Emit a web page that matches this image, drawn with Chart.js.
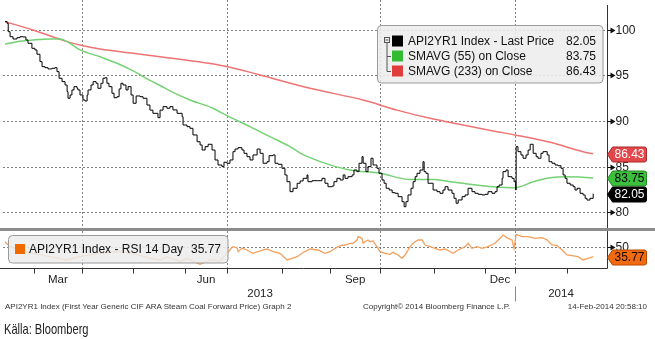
<!DOCTYPE html>
<html>
<head>
<meta charset="utf-8">
<script src="https://cdn.jsdelivr.net/npm/chart.js@4.4.0/dist/chart.umd.min.js"></script>
<style>
  body { margin: 0; background: #fff; }
  #wrap { position: relative; width: 655px; height: 339px; overflow: hidden; }
  canvas { position: absolute; left: 0; }
  #main { top: 0; }
  #rsi { top: 231px; }
  #band { position: absolute; left: 0; top: 228px; width: 655px; height: 3px; background: #8c8c8c; }
  .foot { position: absolute; top: 302px; font: 8px "Liberation Sans", sans-serif; color: #333; white-space: nowrap; }
  #source { position: absolute; left: 4px; top: 320px; font: 15px "Liberation Sans", sans-serif; color: #222;
            transform: scaleX(0.74); transform-origin: 0 0; white-space: nowrap; }
</style>
</head>
<body>
<div id="wrap">
  <canvas id="main" width="655" height="228"></canvas>
  <div id="band"></div>
  <canvas id="rsi" width="655" height="108"></canvas>
  <div class="foot" style="left:5px">API2YR1 Index (First Year Generic CIF ARA Steam Coal Forward Price) Graph 2</div>
  <div class="foot" style="left:363px">Copyright© 2014 Bloomberg Finance L.P.</div>
  <div class="foot" style="right:8px">14-Feb-2014 20:58:10</div>
  <div id="source">Källa: Bloomberg</div>
</div>
<script>
// x = trading day since 14-Feb-2013
const price = [[0,100.89],[0.9,100.71],[1.4,99.79],[2.2,99.24],[3.5,98.99],[5.2,99.13],[6.5,99.24],[7.8,99.21],[9.1,98.88],[10,98.52],
  [11.7,97.97],[13,97.79],[13.9,97.32],[15.2,96.51],[16.1,95.96],[17.4,95.85],[18.7,95.71],[20.4,95.78],[21.7,95.85],[22.6,95.41],
  [23.5,94.69],[24.8,94.32],[26.1,93.95],[27,93.22],[27.4,92.5],[28.3,92.86],[29.1,93.41],[30,93.77],[31.3,93.59],[31.7,93.41],
  [32.6,92.86],[33.9,92.31],[34.8,92.2],[35.7,92.86],[36.1,93.41],[37.4,93.95],[38.3,94.32],[39.6,94.14],[40.4,93.59],[41.7,94.14],
  [42.6,94.69],[43.5,94.75],[44.3,94.14],[45.2,93.77],[46.5,93.05],[47.4,92.56],[48.7,92.67],[49.6,93.52],[50.4,94.14],[51.3,93.95],
  [52.6,93.41],[53.5,93.77],[54.8,92.86],[55.7,91.95],[57,92.75],[58.7,92.67],[60,92.5],[61.7,91.76],[63,91.2],[64.3,90.85],
  [66.5,90.37],[67.4,91.2],[68.7,91.58],[70.4,91.4],[71.7,91.58],[73,91.22],[74.8,90.85],[77,90.48],[77.4,89.57],[79.1,89.39],
  [80.4,89.21],[81.7,88.48],[83.5,87.74],[84.8,87.38],[85.7,86.83],[87,87.2],[88.3,87.46],[90,86.83],[91.3,85.74],[92.6,85.19],
  [94.3,85.01],[95.2,85.49],[96.5,85.38],[97.8,85.74],[99.1,86.65],[100,86.94],[101.3,87.09],[103,86.83],[103.9,86.47],[105.2,86.1],
  [106.5,85.74],[107.8,86.29],[109.6,86.94],[110.9,86.47],[112.2,85.38],[113.9,85.55],[114.8,86.21],[116.5,86.29],[117.4,85.38],[118.7,85.27],
  [120.4,84.83],[121.7,84.1],[122.6,83.36],[123.9,82.27],[125.2,82.64],[127,83.19],[128.3,83.44],[129.6,83.73],[131.3,84.1],[131.7,83.36],
  [133.5,83.47],[135.7,83.47],[137.8,83.73],[139.1,83.19],[140.4,82.81],[142.2,82.89],[143,83.36],[144.3,83.73],[145.7,83.55],[147,84.1],
  [147.8,83.73],[149.1,83.91],[150.9,84.1],[151.7,84.64],[153,84.46],[153.9,85.38],[155.2,86.1],[155.7,85.38],[156.9,84.46],[157.8,85.01],
  [159.1,85.93],[160,85.19],[160.9,85.19],[161.7,84.83],[162.6,84.28],[163.9,83.55],[164.8,83.19],[165.7,82.64],[167,82.45],[168.3,82.16],
  [169.6,82.09],[170.9,81.72],[172.6,81.17],[173.5,80.62],[174.3,81.17],[175.2,81.91],[176.5,82.64],[177.4,83.36],[178.3,83.91],[179.1,84.28],
  [180.4,84.64],[181.7,85.55],[182.2,84.46],[183,84.28],[183.9,83.19],[185.2,83.19],[186.1,82.45],[187.8,82.27],[189.1,82.09],[190.4,82.45],
  [191.3,82.81],[192.6,82.45],[194.3,82.09],[195.2,81.54],[196.1,81.0],[197,81.36],[198.7,81.72],[200,81.91],[201.3,82.64],[203,82.27],
  [204.3,82.09],[205.7,81.98],[207.4,81.91],[208.7,81.98],[210,82.27],[211.7,82.09],[213,82.27],[213.9,82.81],[214.8,83.0],[216.1,83.73],
  [216.5,84.46],[217.8,84.64],[218.7,83.91],[220.4,83.73],[221.3,83.36],[222,82.45],[222.2,87.2],[223,86.65],[224.3,86.29],[225.2,85.93],
  [226.5,86.29],[227.4,86.83],[228.3,87.46],[229.6,86.47],[230.9,86.1],[231.7,85.93],[233,86.47],[233.9,86.65],[235.7,86.29],[236.5,85.55],
  [237.8,85.38],[239.1,85.19],[240.4,85.11],[241.7,84.83],[242.6,84.1],[243.5,83.73],[244.3,83.19],[245.7,83.0],[247,82.81],[247.8,82.45],
  [248.7,82.64],[250,82.09],[251.3,81.91],[252.2,81.54],[253,81.35],[254.3,81.54],[255.7,82.05]]

const sma55 = [[0,98.41],[5.2,98.7],[12.2,98.88],[19.6,98.99],[23.9,98.99],[27,98.7],[32.6,97.79],[41.3,97.05],[48.7,96.33],[55.7,95.49],
  [63,94.45],[67.4,93.9],[71.7,93.3],[80.4,92.31],[90.4,91.4],[96.5,90.59],[106.5,89.39],[115.2,88.29],[123.9,87.2],[128.3,86.5],
  [132.6,86.0],[141.3,85.2],[150,84.64],[163,84.28],[176.1,83.6],[186.1,83.6],[193.5,83.36],[202.2,83.08],[212.2,82.81],[221.7,82.7],
  [229.6,83.36],[237,83.8],[244.3,83.91],[254.3,83.8],[255.7,83.75]]

const sma233 = [[0,100.89],[12.2,99.98],[27,98.7],[33.9,98.26],[41.3,97.9],[55.7,97.43],[67.4,97.05],[95.2,96.04],[110.9,95.05],[132.6,93.59],
  [155.7,92.3],[170.4,91.2],[184.8,90.3],[199.1,89.57],[213.9,88.84],[221.7,88.48],[237,87.68],[254.3,86.47],[255.7,86.43]]

const rsi = [[0,57],[2.2,50],[6.5,45.3],[12.2,40.6],[19.6,35.8],[27,31.1],[32.6,35.8],[41.3,40.6],[48.7,42.9],[55.7,40.6],
  [63,33.5],[67.4,31.1],[70.4,35.8],[76.1,28.7],[79.1,33.5],[84.8,25],[89.1,31.1],[93.5,29.7],[97.8,45.3],[99.1,50],
  [100.9,48.2],[101.3,42.9],[103,47.7],[105.2,45.3],[107.8,40.6],[112.2,45.3],[113.9,46.7],[116.5,42.9],[119.6,40.6],[122.6,31.1],
  [124.8,33.5],[127,35.8],[129.1,40.6],[132.6,46.7],[136.1,45.3],[139.1,40.6],[141.3,42.9],[143.5,47.7],[145.7,51.4],[147.8,52.4],
  [150,54.8],[151.3,54.8],[153,59.5],[153.5,64.2],[155.2,61.9],[155.7,54.8],[156.5,57.1],[157.8,59.5],[158.7,57.1],[160,58.1],
  [161.7,50],[163,42.9],[165.2,40.6],[167.4,39.2],[168.7,42],[170.9,38.2],[172.6,33.5],[173.9,38.2],[176.1,50],[177.4,54.8],
  [179.6,59.5],[181.3,59.5],[182.6,52.4],[184.8,50],[187,47.7],[189.1,45.3],[191.3,46.7],[194.8,40.6],[197,45.3],[200,50],
  [201.3,54.8],[203,47.7],[205.2,50],[207.4,47.7],[210,50],[213,54.8],[215.2,61.9],[216.5,66.6],[218.7,61.9],[220.4,59.5],
  [221.3,47.7],[222.2,67.6],[224.8,64.2],[227.4,64.2],[230.4,61.9],[233.5,62.8],[235.7,59.5],[237.8,52.4],[240,51.4],[242.2,45.3],
  [244.3,38.2],[246.5,37.2],[249.1,35.8],[251.3,31.1],[253.5,33.5],[255.7,35.77]]

const priceTicks = [80, 85, 90, 95, 100]
const rsiTicks = [50]
const monthStarts = [12.6, 33.5, 55.7, 78.3, 96.5, 120.4, 141.3, 163, 186.5, 208.7, 221.7, 244.3]
const quarterStarts = [33.5, 96.5, 163, 221.7]
const monthLabels = ['Mar', 'Jun', 'Sep', 'Dec']
const monthLabelDays = [23, 87.4, 152.2, 215.2]
const yearLabels = ['2013', '2014']
const yearLabelDays = [110.9, 241.7]
const yearBreak = 221.7

const last = arr => arr[arr.length - 1][1]

const FONT = '"Liberation Sans", Arial, sans-serif'
const GRID = '#808080'

function seg(ctx, x1, y1, x2, y2) {
  ctx.beginPath()
  ctx.moveTo(x1, y1)
  ctx.lineTo(x2, y2)
  ctx.stroke()
}

function tickArrow(ctx, x0, y) {
  ctx.strokeStyle = '#111'
  ctx.fillStyle = '#111'
  ctx.setLineDash([])
  seg(ctx, x0, y, x0 + 4, y)
  ctx.beginPath()
  ctx.moveTo(x0 + 3, y - 3)
  ctx.lineTo(x0 + 8, y)
  ctx.lineTo(x0 + 3, y + 3)
  ctx.closePath()
  ctx.fill()
}

function tag(ctx, x0, yc, text, fill, stroke, color) {
  ctx.beginPath()
  ctx.moveTo(x0, yc)
  ctx.lineTo(x0 + 5, yc - 7.5)
  ctx.lineTo(x0 + 37, yc - 7.5)
  ctx.quadraticCurveTo(x0 + 39, yc - 7.5, x0 + 39, yc - 5.5)
  ctx.lineTo(x0 + 39, yc + 5.5)
  ctx.quadraticCurveTo(x0 + 39, yc + 7.5, x0 + 37, yc + 7.5)
  ctx.lineTo(x0 + 5, yc + 7.5)
  ctx.closePath()
  ctx.fillStyle = fill
  ctx.fill()
  ctx.strokeStyle = stroke
  ctx.lineWidth = 1
  ctx.setLineDash([])
  ctx.stroke()
  ctx.fillStyle = color
  ctx.font = '12px ' + FONT
  ctx.textAlign = 'center'
  ctx.textBaseline = 'middle'
  ctx.fillText(text, x0 + 22, yc + 0.5)
}

function box(ctx, x, y, w, h) {
  ctx.beginPath()
  ctx.roundRect(x, y, w, h, 4)
  ctx.fillStyle = 'rgba(236,236,236,0.86)'
  ctx.fill()
  ctx.strokeStyle = '#9a9a9a'
  ctx.lineWidth = 1
  ctx.setLineDash([])
  ctx.stroke()
}

const mainDeco = {
  id: 'mainDeco',
  beforeDatasetsDraw(chart) {
    const { ctx, chartArea: a, scales: { x, y } } = chart
    ctx.save()
    ctx.strokeStyle = GRID
    ctx.lineWidth = 1
    ctx.setLineDash([2, 2])
    priceTicks.forEach(v => {
      const py = Math.round(y.getPixelForValue(v)) + 0.5
      seg(ctx, a.left, py, a.right, py)
    })
    quarterStarts.forEach(d => {
      const px = Math.round(x.getPixelForValue(d)) + 0.5
      seg(ctx, px, a.top, px, a.bottom)
    })
    ctx.restore()
  },
  afterDatasetsDraw(chart) {
    const { ctx, chartArea: a, scales: { y } } = chart
    const ax = Math.round(a.right) + 0.5
    ctx.save()
    ctx.strokeStyle = '#333'
    ctx.lineWidth = 1
    seg(ctx, ax, a.top + 5, ax, a.bottom)

    priceTicks.forEach(v => {
      const py = Math.round(y.getPixelForValue(v)) + 0.5
      tickArrow(ctx, ax, py)
      ctx.fillStyle = '#1a1a1a'
      ctx.textAlign = 'left'
      ctx.textBaseline = 'middle'
      ctx.font = '12px ' + FONT
      ctx.fillText(String(v), ax + 8, py + 0.5)
    })

    // legend
    box(ctx, 377.5, 25.5, 225.5, 57.5)
    ctx.strokeStyle = '#555'
    ctx.strokeRect(384.5, 37.5, 5, 5)
    seg(ctx, 385.5, 40, 388.5, 40)
    seg(ctx, 387, 43, 387, 71.5)
    seg(ctx, 387, 56.5, 391, 56.5)
    seg(ctx, 387, 71.5, 391, 71.5)
    const rows = [
      ['API2YR1 Index - Last Price', last(price), '#000'],
      ['SMAVG (55) on Close', last(sma55), '#33bb33'],
      ['SMAVG (233) on Close', last(sma233), '#e03c3c']
    ]
    ctx.font = '12px ' + FONT
    ctx.textBaseline = 'middle'
    rows.forEach((r, i) => {
      const cy = 41 + i * 15
      ctx.fillStyle = r[2]
      ctx.fillRect(392, cy - 5.5, 11, 11)
      ctx.fillStyle = '#111'
      ctx.textAlign = 'left'
      ctx.fillText(r[0], 408, cy + 0.5)
      ctx.textAlign = 'right'
      ctx.fillText(r[1].toFixed(2), 596, cy + 0.5)
    })

    tag(ctx, ax, Math.round(y.getPixelForValue(last(sma233))) + 0.5, last(sma233).toFixed(2), '#e3474b', '#a82a2a', '#fff')
    tag(ctx, ax, Math.round(y.getPixelForValue(last(sma55))) + 0.5, last(sma55).toFixed(2), '#3cc03c', '#238a23', '#000')
    tag(ctx, ax, Math.round(y.getPixelForValue(last(price))) + 0.5, last(price).toFixed(2), '#000', '#000', '#fff')
    ctx.restore()
  }
}

const rsiDeco = {
  id: 'rsiDeco',
  beforeDatasetsDraw(chart) {
    const { ctx, chartArea: a, scales: { x, y } } = chart
    ctx.save()
    ctx.strokeStyle = GRID
    ctx.lineWidth = 1
    ctx.setLineDash([2, 2])
    rsiTicks.forEach(v => {
      const py = Math.round(y.getPixelForValue(v)) + 0.5
      seg(ctx, a.left, py, a.right, py)
    })
    quarterStarts.forEach(d => {
      const px = Math.round(x.getPixelForValue(d)) + 0.5
      seg(ctx, px, a.top, px, a.bottom + 5)
    })
    ctx.restore()
  },
  afterDatasetsDraw(chart) {
    const { ctx, chartArea: a, scales: { x, y } } = chart
    const ax = Math.round(a.right) + 0.5
    const by = Math.round(a.bottom) + 0.5
    ctx.save()
    ctx.strokeStyle = '#333'
    ctx.lineWidth = 1
    ctx.setLineDash([])
    seg(ctx, ax, a.top, ax, by)
    seg(ctx, 0, by, ax, by)
    monthStarts.forEach(d => {
      const px = Math.round(x.getPixelForValue(d)) + 0.5
      ctx.strokeStyle = '#333'
      seg(ctx, px, by, px, by + 5)
    })
    ctx.strokeStyle = '#888'
    const bx = Math.round(x.getPixelForValue(yearBreak)) + 0.5
    seg(ctx, bx, by + 18, bx, by + 33)

    ctx.fillStyle = '#222'
    ctx.font = '11.5px ' + FONT
    ctx.textAlign = 'center'
    ctx.textBaseline = 'middle'
    monthLabels.forEach((m, i) => ctx.fillText(m, x.getPixelForValue(monthLabelDays[i]), by + 11))
    yearLabels.forEach((t, i) => ctx.fillText(t, x.getPixelForValue(yearLabelDays[i]), by + 25))

    rsiTicks.forEach(v => {
      const py = Math.round(y.getPixelForValue(v)) + 0.5
      tickArrow(ctx, ax, py)
      ctx.fillStyle = '#1a1a1a'
      ctx.textAlign = 'left'
      ctx.font = '12px ' + FONT
      ctx.fillText(String(v), ax + 8, py + 0.5)
    })

    // legend
    box(ctx, 8.5, 4.5, 219.5, 27.5)
    ctx.fillStyle = '#f06a00'
    ctx.fillRect(15, 13, 10, 10)
    ctx.fillStyle = '#111'
    ctx.font = '12px ' + FONT
    ctx.textBaseline = 'middle'
    ctx.textAlign = 'left'
    ctx.fillText('API2YR1 Index - RSI 14 Day', 29, 18.5)
    ctx.textAlign = 'right'
    ctx.fillText(last(rsi).toFixed(2), 221, 18.5)

    tag(ctx, ax, Math.round(y.getPixelForValue(last(rsi))) + 0.5, last(rsi).toFixed(2), '#f06a10', '#b84a00', '#1a0a00')
    ctx.restore()
  }
}

const xScale = { type: 'linear', min: -0.87, max: 261.7, display: false }
const common = {
  responsive: false,
  animation: false,
  devicePixelRatio: 1,
  plugins: { legend: { display: false }, tooltip: { enabled: false } },
  elements: { point: { radius: 0 } }
}

new Chart(document.getElementById('main'), {
  type: 'line',
  data: {
    datasets: [
      { label: 'API2YR1 Index - Last Price', data: price, borderColor: '#000', borderWidth: 1, stepped: true },
      { label: 'SMAVG (55) on Close', data: sma55, borderColor: '#74d274', borderWidth: 1.5, cubicInterpolationMode: 'monotone' },
      { label: 'SMAVG (233) on Close', data: sma233, borderColor: '#ee7474', borderWidth: 1.5, cubicInterpolationMode: 'monotone' }
    ]
  },
  options: {
    ...common,
    layout: { padding: { left: 3, right: 48, top: 0, bottom: 0 } },
    scales: { x: xScale, y: { min: 78.29, max: 103.26, display: false } }
  },
  plugins: [mainDeco]
})

new Chart(document.getElementById('rsi'), {
  type: 'line',
  data: {
    datasets: [
      { label: 'API2YR1 Index - RSI 14 Day', data: rsi, borderColor: '#f4a05c', borderWidth: 1.3 }
    ]
  },
  options: {
    ...common,
    layout: { padding: { left: 3, right: 48, top: 0, bottom: 71 } },
    scales: { x: xScale, y: { min: 19.7, max: 72.3, display: false } }
  },
  plugins: [rsiDeco]
})
</script>
</body>
</html>
